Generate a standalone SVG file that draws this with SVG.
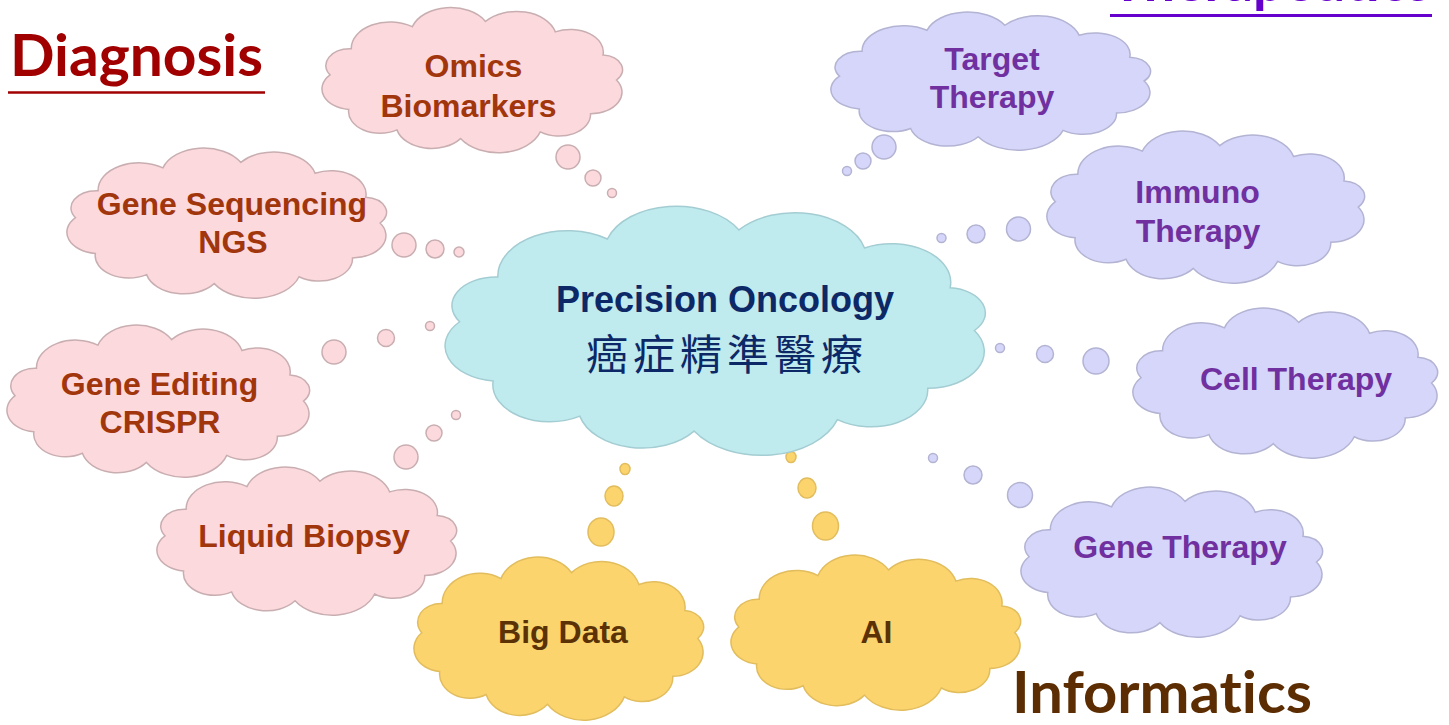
<svg xmlns="http://www.w3.org/2000/svg" xmlns:xlink="http://www.w3.org/1999/xlink" width="1449" height="725" viewBox="0 0 1449 725">
<defs>
<path id="cloud" vector-effect="non-scaling-stroke" d="M100,0 A22,22 0 0 1 81.9,34.4 A22,22 0 0 1 46.9,53 A31,31 0 0 1 -8.7,59.8 A25,25 0 0 1 -53,50.9 A22,22 0 0 1 -86.6,30 A21,21 0 0 1 -99.6,-5.2 A17,17 0 0 1 -84.8,-31.8 A27,27 0 0 1 -42.3,-54.4 A28,28 0 0 1 8.7,-59.8 A28,28 0 0 1 57.4,-49.1 A23,23 0 0 1 90.6,-25.4 A15,15 0 0 1 100,0 Z"/>
</defs>
<style>
.pink{fill:#fcd9dd;stroke:#c9aeb1;stroke-width:1.5}
.lav{fill:#d6d6fa;stroke:#b3b3d3;stroke-width:1.5}
.cyan{fill:#bfeaee;stroke:#a3cdd2;stroke-width:1.5}
.yel{fill:#fbd46e;stroke:#e2bd5e;stroke-width:1.5}
.lbl{font-family:"Liberation Sans",Arial,sans-serif;font-weight:bold;font-size:32px;text-anchor:middle}
.dx{fill:#a1350b}
.tx{fill:#7030a0}
.ix{fill:#5a3205}
.title{font-family:Lato,"Open Sans",sans-serif;font-weight:bold;font-variant-ligatures:none}
</style>
<rect width="1449" height="725" fill="#ffffff"/>

<g id="titles">
<text class="title" x="10" y="76" font-size="58" fill="#a00000" textLength="253" lengthAdjust="spacingAndGlyphs">Diagnosis</text>
<line x1="8" y1="92.5" x2="265" y2="92.5" stroke="#a00000" stroke-width="2.5"/>
<text class="title" x="1111" y="0.5" font-size="58" fill="#6600cc" textLength="320" lengthAdjust="spacingAndGlyphs">Therapeutics</text>
<line x1="1110" y1="15.5" x2="1432" y2="15.5" stroke="#6600cc" stroke-width="3"/>
<text class="title" x="1012" y="713" font-size="57" fill="#5c2d02" textLength="300" lengthAdjust="spacingAndGlyphs">Informatics</text>
</g>

<g id="connectors">
<g class="pink">
<circle cx="568" cy="157" r="12"/><circle cx="593" cy="178" r="8"/><circle cx="612" cy="193" r="4.5"/>
<circle cx="404" cy="245" r="12"/><circle cx="435" cy="249" r="9"/><circle cx="459" cy="252" r="5"/>
<circle cx="334" cy="352" r="12"/><circle cx="386" cy="338" r="8.5"/><circle cx="430" cy="326" r="4.5"/>
<circle cx="406" cy="457" r="12"/><circle cx="434" cy="433" r="8"/><circle cx="456" cy="415" r="4.5"/>
</g>
<g class="yel">
<ellipse cx="601" cy="532" rx="13" ry="14"/><ellipse cx="614" cy="496" rx="9" ry="10"/><ellipse cx="625" cy="469" rx="5" ry="5.5"/>
<ellipse cx="825.5" cy="526" rx="13" ry="14"/><ellipse cx="807" cy="488" rx="9" ry="10"/><ellipse cx="791" cy="457" rx="5" ry="5.5"/>
</g>
<g class="lav">
<circle cx="884" cy="147" r="12"/><circle cx="863" cy="161" r="8"/><circle cx="847" cy="171" r="4.5"/>
<circle cx="1018.5" cy="229" r="12"/><circle cx="976" cy="234" r="9"/><circle cx="941.5" cy="238" r="4.5"/>
<circle cx="1096" cy="361" r="13"/><circle cx="1045" cy="354" r="8.5"/><circle cx="1000" cy="348" r="4.5"/>
<circle cx="1020" cy="495" r="12.5"/><circle cx="973" cy="475" r="9"/><circle cx="933" cy="458" r="4.5"/>
</g>
</g>

<g id="node-omics">
<use xlink:href="#cloud" class="pink" transform="translate(473,80) scale(1.435,0.98)"/>
<text class="lbl dx" x="473.5" y="77">Omics</text>
<text class="lbl dx" x="468.5" y="117">Biomarkers</text>
</g>
<g id="node-gene-sequencing">
<use xlink:href="#cloud" class="pink" transform="translate(227.5,223) scale(1.526,1.014)"/>
<text class="lbl dx" x="232" y="215">Gene Sequencing</text>
<text class="lbl dx" x="233" y="253">NGS</text>
</g>
<g id="node-gene-editing">
<use xlink:href="#cloud" class="pink" transform="translate(159,401) scale(1.445,1.027)"/>
<text class="lbl dx" x="159.5" y="395">Gene Editing</text>
<text class="lbl dx" x="160" y="433">CRISPR</text>
</g>
<g id="node-liquid-biopsy">
<use xlink:href="#cloud" class="pink" transform="translate(307.5,541) scale(1.431,1.0)"/>
<text class="lbl dx" x="304" y="547">Liquid Biopsy</text>
</g>
<g id="node-precision-oncology">
<use xlink:href="#cloud" class="cyan" transform="translate(716.5,330.5) scale(2.579,1.682)"/>
<text x="725" y="312" font-family="Liberation Sans,Arial,sans-serif" font-weight="bold" font-size="36" text-anchor="middle" fill="#0c2866">Precision Oncology</text>
<text x="586" y="370" font-family="'Noto Sans CJK TC','Noto Sans CJK SC',sans-serif" font-size="42" letter-spacing="5" fill="#0c2866">癌症精準醫療</text>
</g>
<g id="node-big-data">
<use xlink:href="#cloud" class="yel" transform="translate(559.5,638.5) scale(1.383,1.101)"/>
<text class="lbl ix" x="563" y="643">Big Data</text>
</g>
<g id="node-ai">
<use xlink:href="#cloud" class="yel" transform="translate(876.5,632.5) scale(1.383,1.047)"/>
<text class="lbl ix" x="876.5" y="643">AI</text>
</g>
<g id="node-target-therapy">
<use xlink:href="#cloud" class="lav" transform="translate(991.5,81) scale(1.526,0.932)"/>
<text class="lbl tx" x="992" y="70">Target</text>
<text class="lbl tx" x="992" y="108">Therapy</text>
</g>
<g id="node-immuno-therapy">
<use xlink:href="#cloud" class="lav" transform="translate(1206.5,207) scale(1.517,1.027)"/>
<text class="lbl tx" x="1197.5" y="203">Immuno</text>
<text class="lbl tx" x="1198" y="242">Therapy</text>
</g>
<g id="node-cell-therapy">
<use xlink:href="#cloud" class="lav" transform="translate(1286,383) scale(1.455,1.014)"/>
<text class="lbl tx" x="1296" y="390">Cell Therapy</text>
</g>
<g id="node-gene-therapy">
<use xlink:href="#cloud" class="lav" transform="translate(1172.5,562) scale(1.44,1.014)"/>
<text class="lbl tx" x="1180" y="558">Gene Therapy</text>
</g>
</svg>
